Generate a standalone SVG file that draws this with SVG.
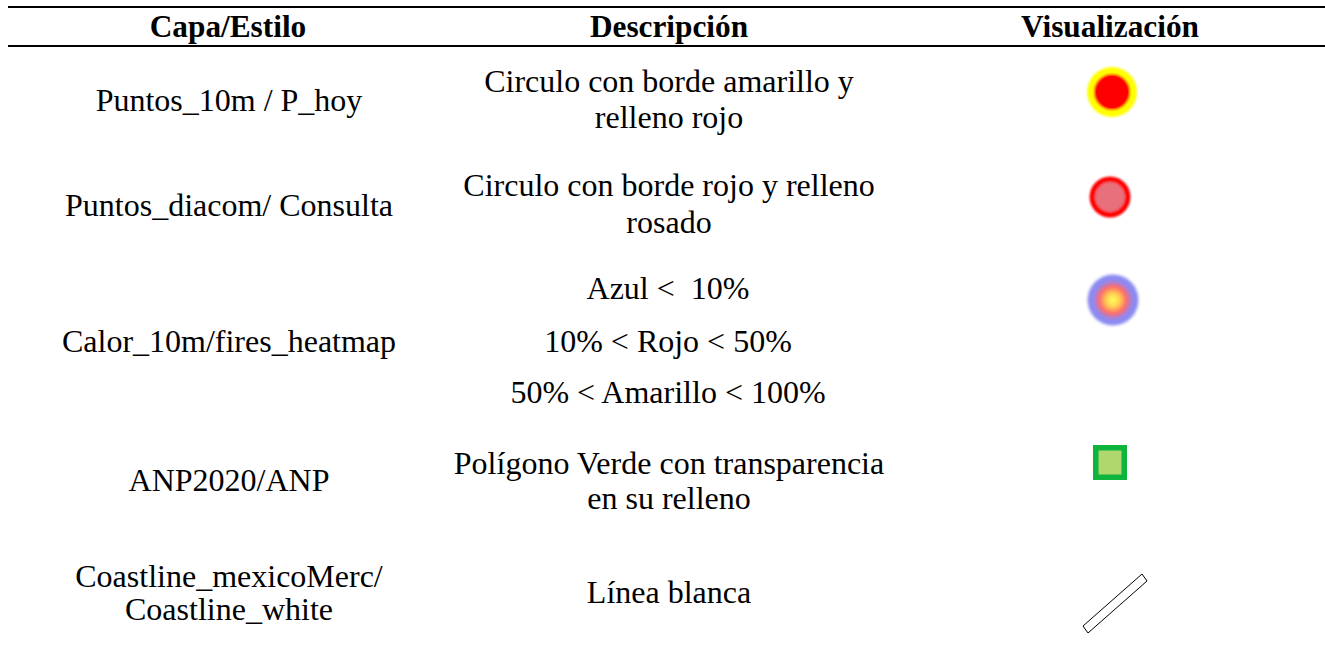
<svg xmlns="http://www.w3.org/2000/svg" width="1325" height="647" viewBox="0 0 1325 647">
<style>
text{font-family:"Liberation Serif","Times New Roman",serif;font-size:32px;fill:#000;text-anchor:middle;white-space:pre}
.h{font-weight:bold;font-size:31.3px}
.rule{stroke:#000;stroke-width:2}
</style>
<defs>
<radialGradient id="heat" cx="0.5" cy="0.5" r="0.5">
<stop offset="0" stop-color="#ffff60"/>
<stop offset="0.25" stop-color="#ffd050"/>
<stop offset="0.5" stop-color="#ff6a6a"/>
<stop offset="0.72" stop-color="#9088f0"/>
<stop offset="0.88" stop-color="#8a8af2"/>
<stop offset="1" stop-color="#8a8af2" stop-opacity="0"/>
</radialGradient>
<filter id="soft" x="-20%" y="-20%" width="140%" height="140%"><feGaussianBlur stdDeviation="0.8"/></filter>
</defs>
<rect width="1325" height="647" fill="#fff"/>
<g id="header">
<line class="rule" x1="8" y1="7" x2="1325" y2="7"/>
<line class="rule" x1="8" y1="46" x2="1325" y2="46"/>
<text class="h" x="228" y="37">Capa/Estilo</text>
<text class="h" x="669" y="37">Descripción</text>
<text class="h" x="1110" y="37">Visualización</text>
</g>
<g id="row1">
<text x="229" y="111">Puntos_10m / P_hoy</text>
<text x="669" y="92">Circulo con borde amarillo y</text>
<text x="669" y="128">relleno rojo</text>
<g filter="url(#soft)">
<circle cx="1112" cy="92" r="25" fill="#ffff00"/>
<circle cx="1112" cy="92" r="18" fill="#ff0000"/>
</g>
</g>
<g id="row2">
<text x="229" y="216">Puntos_diacom/ Consulta</text>
<text x="669" y="196">Circulo con borde rojo y relleno</text>
<text x="669" y="233">rosado</text>
<g filter="url(#soft)">
<circle cx="1110" cy="197" r="20.5" fill="#ff0000"/>
<circle cx="1110" cy="197" r="15" fill="#e8707c"/>
</g>
</g>
<g id="row3">
<text x="229" y="352">Calor_10m/fires_heatmap</text>
<text x="668" y="299">Azul &lt;  10%</text>
<text x="668" y="352">10% &lt; Rojo &lt; 50%</text>
<text x="668" y="403">50% &lt; Amarillo &lt; 100%</text>
<circle cx="1113" cy="300" r="27" fill="url(#heat)" filter="url(#soft)"/>
</g>
<g id="row4">
<text x="229" y="491">ANP2020/ANP</text>
<text x="669" y="474">Polígono Verde con transparencia</text>
<text x="669" y="509">en su relleno</text>
<rect x="1093" y="445" width="34" height="35" fill="#0db53c"/>
<rect x="1098.5" y="450.5" width="23" height="24" fill="#b0d66e"/>
</g>
<g id="row5">
<text x="229" y="587">Coastline_mexicoMerc/</text>
<text x="229" y="620">Coastline_white</text>
<text x="669" y="603">Línea blanca</text>
<polygon points="1142,574 1147,581 1088,633 1083,626" fill="#fff" stroke="#000" stroke-width="1"/>
</g>
</svg>
